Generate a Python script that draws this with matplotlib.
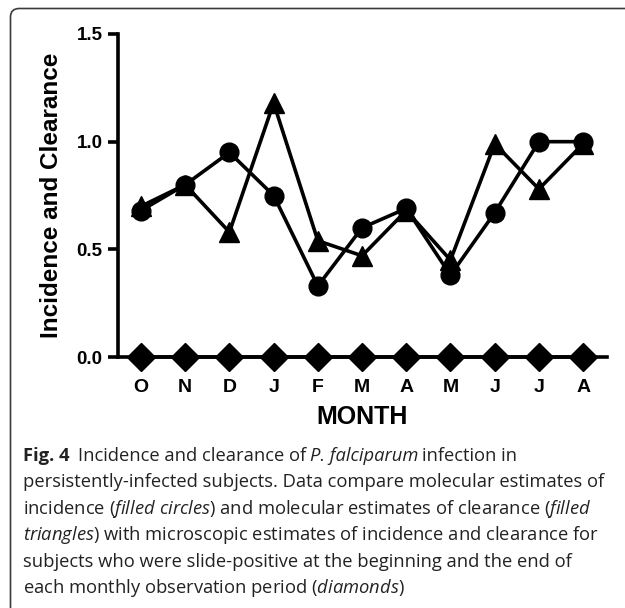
"""
plot.py
Fig. 4 - incidence and clearance of P. falciparum in persistently-infected subjects.
"""

import matplotlib.pyplot as plt
from matplotlib.patches import FancyBboxPatch

months = ["O", "N", "D", "J", "F", "M", "A", "M", "J", "J", "A"]

# molecular incidence (filled circles)
incidence = [0.68, 0.80, 0.95, 0.75, 0.33, 0.60, 0.69, 0.38, 0.67, 1.00, 1.00]
# molecular clearance (filled triangles)
clearance = [0.70, 0.80, 0.58, 1.18, 0.54, 0.47, 0.68, 0.45, 0.99, 0.78, 0.99]
# microscopic estimates (diamonds)
microscopic = [0, 0, 0, 0, 0, 0, 0, 0, 0, 0, 0]

yticks = [0.0, 0.5, 1.0, 1.5]

plt.rcParams["font.family"] = "Liberation Sans"
plt.rcParams["font.weight"] = "bold"
plt.rcParams["axes.labelweight"] = "bold"
plt.rcParams["mathtext.fontset"] = "custom"
plt.rcParams["mathtext.it"] = "Open Sans:style=italic:weight=normal"
plt.rcParams["mathtext.rm"] = "Open Sans:weight=normal"

W, H = 625, 608
fig = plt.figure(figsize=(W / 100, H / 100), dpi=100)

# rounded frame around the figure panel (open to the right and bottom)
frame = FancyBboxPatch((10.5 / W, -0.05), 1.0, 1 - 8.5 / H + 0.05,
                       boxstyle="round,pad=0,rounding_size=0.014",
                       transform=fig.transFigure, facecolor="none",
                       edgecolor="#3a3a3a", linewidth=1.2, clip_on=False)
fig.patches.append(frame)

ax = fig.add_axes([118 / W, 1 - 357 / H, (607 - 118) / W, (357 - 34) / H])
x = list(range(len(months)))

line_kw = dict(color="black", linewidth=2.6, clip_on=False)
ax.plot(x, microscopic, marker="D", markersize=14, zorder=3, **line_kw)
ax.plot(x, clearance, marker="^", markersize=15, zorder=4, **line_kw)
ax.plot(x, incidence, marker="o", markersize=13.5, zorder=5, **line_kw)

ax.set_xlim(-0.52, 10.54)
ax.set_ylim(0, 1.5)
ax.set_yticks(yticks)
ax.set_yticklabels([f"{v:.1f}" for v in yticks])
ax.set_xticks(x)
ax.set_xticklabels(months)

ax.tick_params(axis="y", direction="out", length=7, width=2.6, pad=4,
               labelsize=13.5)
ax.tick_params(axis="x", length=0, pad=16, labelsize=14)
for side in ["top", "right"]:
    ax.spines[side].set_visible(False)
for side in ["left", "bottom"]:
    ax.spines[side].set_linewidth(2.6)

ax.set_ylabel("Incidence and Clearance", fontsize=17.5, labelpad=10)
ax.set_xlabel("MONTH", fontsize=18, labelpad=6)

# caption
cap = dict(fontsize=13.2, family="Open Sans", weight="normal",
           va="center", color="#222222")
x0 = 23 / W
y_first = 1 - 456 / H
step = 26.4 / H

first_parts = [
    ("Fig. 4", dict(weight="bold"), 8),
    ("Incidence and clearance of", {}, 4),
    ("P. falciparum", dict(style="italic"), 4),
    ("infection in", {}, 0),
]
xpos = x0
for txt, extra, gap in first_parts:
    kw = dict(cap)
    kw.update(extra)
    t = fig.text(xpos, y_first, txt, **kw)
    fig.canvas.draw()
    xpos = t.get_window_extent().x1 / W + gap / W

caption_lines = [
    "persistently-infected subjects. Data compare molecular estimates of",
    r"incidence ($\it{filled\ circles}$) and molecular estimates of clearance ($\it{filled}$",
    r"$\it{triangles}$) with microscopic estimates of incidence and clearance for",
    "subjects who were slide-positive at the beginning and the end of",
    r"each monthly observation period ($\it{diamonds}$)",
]
for i, line in enumerate(caption_lines, start=1):
    fig.text(x0, y_first - i * step, line, **cap)

fig.savefig("out.png", dpi=100)
